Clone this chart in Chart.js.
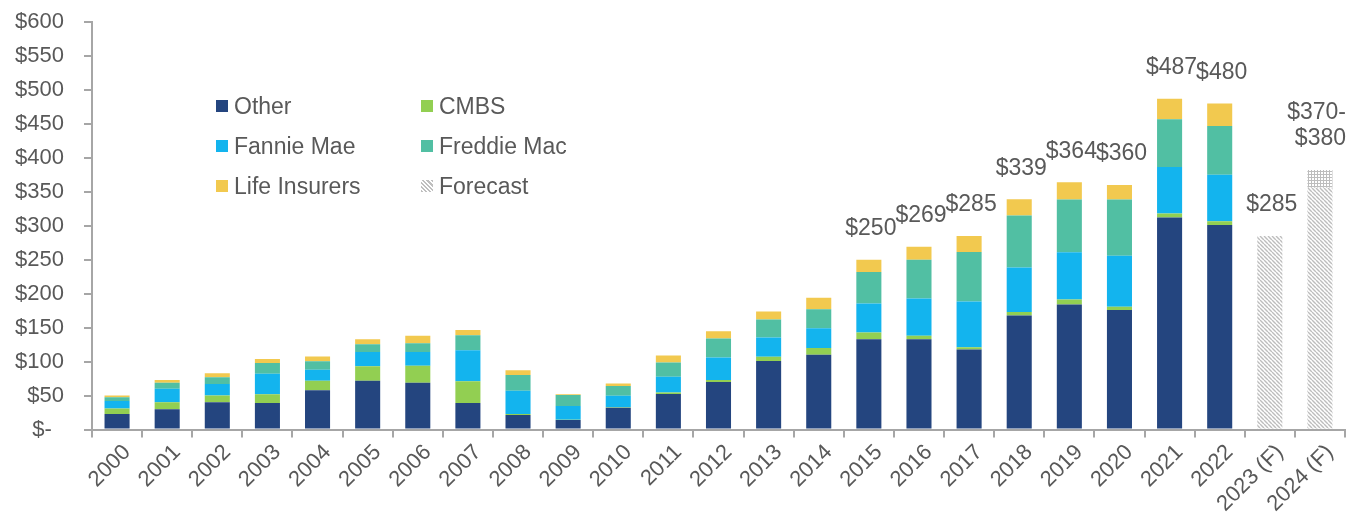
<!DOCTYPE html>
<html>
<head>
<meta charset="utf-8">
<script src="https://cdn.jsdelivr.net/npm/chart.js@4.4.1/dist/chart.umd.min.js"></script>
<style>
  body { margin: 0; background: #fff; font-family: 'Liberation Sans', Arial, sans-serif; }
  #wrap { position: relative; width: 1348px; height: 519px; }
  #legend { position: absolute; left: 216px; top: 92px; display: grid; grid-template-columns: 205px 180px; row-gap: 12px; }
  .item { display: flex; align-items: center; font-size: 23px; color: #595959; height: 28px; white-space: nowrap; }
  .sw { width: 12px; height: 12px; margin-right: 6px; }
  .hatch { background: repeating-linear-gradient(45deg, #bfbfbf 0 1.5px, #fff 1.5px 3px); }
</style>
</head>
<body>
<div id="wrap">
  <canvas id="lendingChart" width="1348" height="519"></canvas>
  <div id="legend"></div>
</div>
<script>
const years = ['2000', '2001', '2002', '2003', '2004', '2005', '2006', '2007', '2008', '2009',
  '2010', '2011', '2012', '2013', '2014', '2015', '2016', '2017', '2018', '2019',
  '2020', '2021', '2022', '2023 (F)', '2024 (F)'];

// $ billions
const other = [23, 30, 40, 39, 58, 72, 69, 39, 21.5, 14.2, 32, 52.4, 70, 101, 110,
  133, 133, 118, 168, 184, 176, 312, 301, null, null];
const cmbs = [8, 10, 10, 13, 14, 21, 25, 32, 1.5, 0.3, 1, 2, 3, 6, 10,
  10, 5, 3, 5, 7.5, 4.6, 6, 5.8, null, null];
const fannieMae = [11, 20, 17, 30, 16, 21, 20, 45.6, 34, 20.3, 16.7, 23.5, 33, 28.5, 29,
  42.6, 55, 67.5, 65.6, 69.5, 75.4, 68.7, 68.2, null, null];
const freddieMac = [5.6, 9, 10, 16, 12.6, 11.6, 13, 22.2, 23.4, 16.2, 14.5, 20.7, 28, 26.5, 28,
  46.4, 57, 73, 76.4, 77.7, 82.7, 70.3, 72, null, null];
const lifeInsurers = [2.4, 4, 6, 6, 7, 7.4, 11, 7.7, 7, 1, 3.7, 10.3, 10.8, 11.8, 17,
  18, 19, 23.4, 24, 25.3, 21.3, 30, 33, null, null];
const forecast = [null, null, null, null, null, null, null, null, null, null, null, null, null,
  null, null, null, null, null, null, null, null, null, null, 285, 356];
const forecastRange = [null, null, null, null, null, null, null, null, null, null, null, null, null,
  null, null, null, null, null, null, null, null, null, null, null, 26];
const totalLabels = ['', '', '', '', '', '', '', '', '', '', '', '', '', '', '',
  '$250', '$269', '$285', '$339', '$364', '$360', '$487', '$480', '$285', '$370-\n$380'];

const yTicks = [0, 50, 100, 150, 200, 250, 300, 350, 400, 450, 500, 550, 600];

const TEXT = '#595959';
const AXIS = '#A6A6A6';
const FONT = "'Liberation Sans', Arial, sans-serif";

function makePattern(cross) {
  const c = document.createElement('canvas');
  const g = c.getContext('2d');
  if (cross) {
    c.width = c.height = 3;
    g.fillStyle = '#fff';
    g.fillRect(0, 0, 3, 3);
    g.fillStyle = '#BDBDBD';
    g.fillRect(0, 0, 3, 1);
    g.fillRect(0, 0, 1, 3);
  } else {
    c.width = c.height = 4;
    g.fillStyle = '#fff';
    g.fillRect(0, 0, 4, 4);
    g.strokeStyle = '#BDBDBD';
    g.lineWidth = 1.4;
    g.beginPath();
    [-4, 0, 4].forEach(k => { g.moveTo(k, 0); g.lineTo(k + 4, 4); });
    g.stroke();
  }
  return g.createPattern(c, 'repeat');
}

const series = [
  { label: 'Other', data: other, color: '#24457F' },
  { label: 'CMBS', data: cmbs, color: '#92CF52' },
  { label: 'Fannie Mae', data: fannieMae, color: '#13B4EE' },
  { label: 'Freddie Mac', data: freddieMac, color: '#51BFA3' },
  { label: 'Life Insurers', data: lifeInsurers, color: '#F2C94F' },
  { label: 'Forecast', data: forecast, color: makePattern(false), hatch: true },
  { label: 'Range', data: forecastRange, color: makePattern(true) }
];

// legend drawn as html inside the plot, two columns
const legendOrder = ['Other', 'CMBS', 'Fannie Mae', 'Freddie Mac', 'Life Insurers', 'Forecast'];
const legendEl = document.getElementById('legend');
legendOrder.forEach(name => {
  const s = series.find(d => d.label === name);
  const item = document.createElement('div');
  item.className = 'item';
  const sw = document.createElement('span');
  sw.className = 'sw' + (s.hatch ? ' hatch' : '');
  if (!s.hatch) sw.style.background = s.color;
  item.appendChild(sw);
  item.appendChild(document.createTextNode(name));
  legendEl.appendChild(item);
});

// totals above each bar, kept inside the canvas on the right
const totalsPlugin = {
  id: 'totals',
  afterDatasetsDraw(chart) {
    const { ctx, scales: { x, y } } = chart;
    ctx.save();
    ctx.font = '23px ' + FONT;
    ctx.fillStyle = TEXT;
    ctx.textAlign = 'center';
    ctx.textBaseline = 'middle';
    totalLabels.forEach((txt, i) => {
      if (!txt) return;
      let sum = 0;
      chart.data.datasets.forEach(ds => { sum += ds.data[i] || 0; });
      const top = y.getPixelForValue(sum);
      const lines = txt.split('\n');
      lines.forEach((line, k) => {
        const w = ctx.measureText(line).width;
        const cx = Math.min(x.getPixelForValue(i) + 2, chart.width - w / 2 - 2);
        ctx.fillText(line, cx, top - 31 - (lines.length - 1 - k) * 26);
      });
    });
    ctx.restore();
  }
};

new Chart(document.getElementById('lendingChart'), {
  type: 'bar',
  data: {
    labels: years,
    datasets: series.map(s => ({
      label: s.label,
      data: s.data,
      backgroundColor: s.color,
      borderWidth: 0,
      barPercentage: 0.5,
      categoryPercentage: 1
    }))
  },
  options: {
    responsive: false,
    animation: false,
    layout: { padding: { top: 22, right: 3, left: 15, bottom: 0 } },
    plugins: {
      legend: { display: false },
      tooltip: { enabled: false }
    },
    scales: {
      x: {
        stacked: true,
        afterFit: s => { s.paddingLeft = 0; s.paddingRight = 0; },
        grid: { drawOnChartArea: false, tickLength: 8, color: AXIS, lineWidth: 2, offset: true },
        border: { color: AXIS, width: 2 },
        ticks: { color: TEXT, font: { family: FONT, size: 22 }, minRotation: 45, maxRotation: 45, autoSkip: false, padding: 2, labelOffset: 10 }
      },
      y: {
        stacked: true,
        min: 0,
        max: 600,
        afterBuildTicks: axis => { axis.ticks = yTicks.map(v => ({ value: v })); },
        afterFit: s => { s.paddingTop = 0; s.paddingBottom = 0; s.width = 77; },
        grid: { drawOnChartArea: false, tickLength: 8, color: AXIS, lineWidth: 2 },
        border: { color: AXIS, width: 2 },
        ticks: {
          color: TEXT,
          font: { family: FONT, size: 22 },
          padding: 20,
          callback: v => v === 0 ? '$-  ' : '$' + v
        }
      }
    }
  },
  plugins: [totalsPlugin]
});
</script>
</body>
</html>
